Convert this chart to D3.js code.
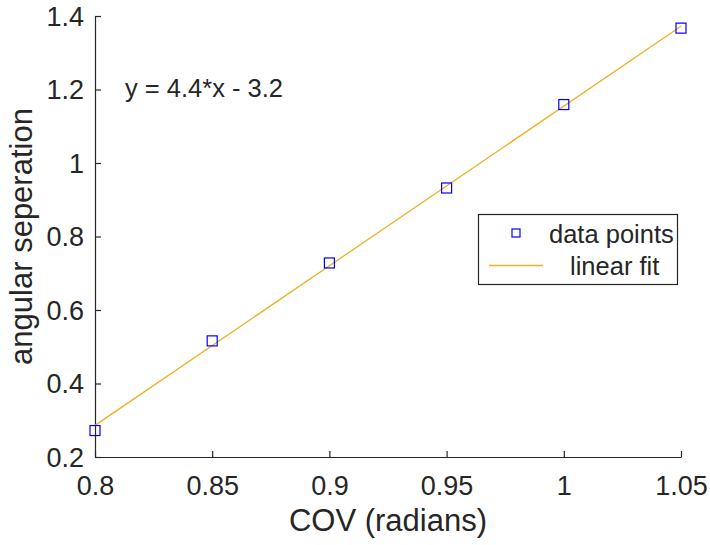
<!DOCTYPE html>
<html>
<head>
<meta charset="utf-8">
<script src="https://cdn.jsdelivr.net/npm/d3@7"></script>
<style>
  html, body { margin: 0; padding: 0; background: #fff; }
  svg { display: block; }
  text { font-family: "Liberation Sans", Arial, Helvetica, sans-serif; fill: #262626; }
</style>
</head>
<body>
<svg id="chart" width="710" height="545"></svg>
<script>
// Data
const covX = [0.8, 0.85, 0.9, 0.95, 1.0, 1.05];
const angSep = [0.272, 0.516, 0.728, 0.932, 1.159, 1.367];
const fitX = [0.8, 1.05];
const fitY = [0.286, 1.372];
const xTicks = [0.8, 0.85, 0.9, 0.95, 1, 1.05];
const yTicks = [0.2, 0.4, 0.6, 0.8, 1, 1.2, 1.4];
const xLabel = "COV (radians)";
const yLabel = "angular seperation";
const equation = "y = 4.4*x - 3.2";
const legendLabels = ["data points", "linear fit"];

const svg = d3.select("#chart");
const margin = { left: 95, right: 29, top: 16, bottom: 88 };
const W = 710, H = 545;
const x = d3.scaleLinear().domain([0.8, 1.05]).range([margin.left, W - margin.right]);
const y = d3.scaleLinear().domain([0.2, 1.4]).range([H - margin.bottom, margin.top]);
const axisColor = "#262626";

// X axis
const xAxis = svg.append("g")
  .attr("transform", `translate(0,${H - margin.bottom})`)
  .call(d3.axisBottom(x).tickValues(xTicks).tickSizeInner(-6).tickSizeOuter(0)
        .tickFormat(d => d3.format("")(+d.toFixed(2))));
xAxis.select(".domain").attr("stroke", axisColor).attr("stroke-width", 1.2);
xAxis.selectAll(".tick line").attr("stroke", axisColor).attr("stroke-width", 1.2);
xAxis.selectAll(".tick text").attr("font-size", 27).attr("fill", axisColor)
  .attr("y", 0).attr("dy", 38).attr("font-family", "Liberation Sans, Arial, sans-serif");

// Y axis
const yAxis = svg.append("g")
  .attr("transform", `translate(${margin.left},0)`)
  .call(d3.axisLeft(y).tickValues(yTicks).tickSizeInner(-6).tickSizeOuter(0)
        .tickFormat(d => d3.format("")(+d.toFixed(1))));
yAxis.select(".domain").attr("stroke", axisColor).attr("stroke-width", 1.2);
yAxis.selectAll(".tick line").attr("stroke", axisColor).attr("stroke-width", 1.2);
yAxis.selectAll(".tick text").attr("font-size", 27).attr("fill", axisColor)
  .attr("x", -11).attr("dy", "0.35em").attr("font-family", "Liberation Sans, Arial, sans-serif");

// Fit line
svg.append("path")
  .datum(fitX.map((d, i) => [d, fitY[i]]))
  .attr("fill", "none")
  .attr("stroke", "#EDB120")
  .attr("stroke-width", 1.3)
  .attr("d", d3.line().x(d => x(d[0])).y(d => y(d[1])));

// Data points (squares)
const s = 10;
svg.append("g").selectAll("rect")
  .data(covX.map((d, i) => [d, angSep[i]]))
  .join("rect")
  .attr("x", d => x(d[0]) - s / 2)
  .attr("y", d => y(d[1]) - s / 2)
  .attr("width", s).attr("height", s)
  .attr("fill", "none").attr("stroke", "#0000FF").attr("stroke-width", 1.2);

// Equation text
svg.append("text").attr("x", 125).attr("y", 97).attr("font-size", 25.5).text(equation);

// Axis labels
svg.append("text").attr("x", (margin.left + W - margin.right) / 2).attr("y", 531)
  .attr("text-anchor", "middle").attr("font-size", 31).text(xLabel);
svg.append("text")
  .attr("transform", `translate(32,${(margin.top + H - margin.bottom) / 2}) rotate(-90)`)
  .attr("text-anchor", "middle").attr("font-size", 31).text(yLabel);

// Legend
const lg = svg.append("g");
lg.append("rect").attr("x", 478.5).attr("y", 214.5).attr("width", 199).attr("height", 70)
  .attr("fill", "#fff").attr("stroke", axisColor).attr("stroke-width", 1.2);
lg.append("rect").attr("x", 516 - 4).attr("y", 233 - 4).attr("width", 8).attr("height", 8)
  .attr("fill", "none").attr("stroke", "#0000FF").attr("stroke-width", 1.2);
lg.append("line").attr("x1", 489).attr("x2", 543).attr("y1", 265.5).attr("y2", 265.5)
  .attr("stroke", "#EDB120").attr("stroke-width", 1.5);
lg.append("text").attr("x", 549).attr("y", 243).attr("font-size", 25.5).text(legendLabels[0]);
lg.append("text").attr("x", 570).attr("y", 275).attr("font-size", 25.5).text(legendLabels[1]);
</script>
</body>
</html>
